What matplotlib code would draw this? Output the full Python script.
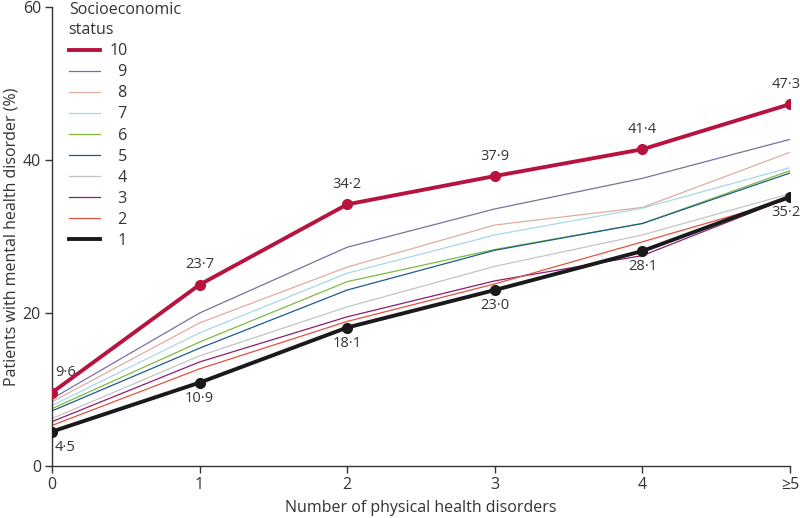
# -*- coding: utf-8 -*-

import matplotlib
matplotlib.use('Agg')
import matplotlib.pyplot as plt

plt.rcParams['font.family'] = ['Open Sans', 'DejaVu Sans']
plt.rcParams['font.size'] = 11.5
plt.rcParams['text.color'] = '#333333'
plt.rcParams['axes.labelcolor'] = '#333333'
plt.rcParams['xtick.color'] = '#333333'
plt.rcParams['ytick.color'] = '#333333'

# Number of physical health disorders (x positions) and their tick labels
x_vals = [0, 1, 2, 3, 4, 5]
x_labels = ['0', '1', '2', '3', '4', '\u22655']

# Patients with mental health disorder (%) per socioeconomic status
ses_10 = [9.6, 23.7, 34.2, 37.9, 41.4, 47.3]
ses_9 = [8.8, 20.0, 28.6, 33.6, 37.6, 42.7]
ses_8 = [8.4, 18.7, 26.0, 31.5, 33.8, 41.0]
ses_7 = [7.9, 17.4, 25.2, 30.2, 33.7, 39.0]
ses_6 = [7.5, 16.2, 24.1, 28.3, 31.7, 38.6]
ses_5 = [7.2, 15.4, 23.0, 28.2, 31.7, 38.3]
ses_4 = [6.2, 14.4, 20.8, 26.1, 30.2, 35.6]
ses_3 = [5.8, 13.6, 19.5, 24.2, 27.5, 35.1]
ses_2 = [5.3, 12.7, 18.9, 23.8, 29.3, 34.9]
ses_1 = [4.5, 10.9, 18.1, 23.0, 28.1, 35.2]

series = {
    '10': ses_10, '9': ses_9, '8': ses_8, '7': ses_7, '6': ses_6,
    '5': ses_5, '4': ses_4, '3': ses_3, '2': ses_2, '1': ses_1,
}
colors = {
    '10': '#b8123f', '9': '#7d6f9c', '8': '#e2aba1', '7': '#a6d8ea',
    '6': '#7dba3e', '5': '#1d5d8e', '4': '#c4c4c4', '3': '#8a1f6e',
    '2': '#e0533f', '1': '#1a1a1a',
}

fig = plt.figure(figsize=(8, 5.18), dpi=100)
ax = fig.add_axes([0.065, 0.1004, 0.9225, 0.8861])

handles = []
for key in ['9', '8', '7', '6', '5', '4', '3', '2']:
    h, = ax.plot(x_vals, series[key], color=colors[key], lw=0.9, zorder=2)
    handles.append(h)

h1, = ax.plot(x_vals, ses_1, color=colors['1'], lw=2.8, marker='o', ms=7,
    zorder=3, solid_capstyle='round')
h10, = ax.plot(x_vals, ses_10, color=colors['10'], lw=2.8, marker='o', ms=7,
    zorder=4, solid_capstyle='round')

# Value labels for the highest and lowest status
def label_offset(x):
    if x == 0:
        return 'left', 2
    if x == 5:
        return 'center', -3
    return 'center', 0

for x, y in zip(x_vals, ses_10):
    ha, dx = label_offset(x)
    ax.annotate(('%.1f' % y).replace('.', '\u00b7'), (x, y), xytext=(dx, 9),
        textcoords='offset points', ha=ha, va='bottom', fontsize=10.5,
        annotation_clip=False)
for x, y in zip(x_vals, ses_1):
    ha, dx = label_offset(x)
    ax.annotate(('%.1f' % y).replace('.', '\u00b7'), (x, y), xytext=(dx, -6),
        textcoords='offset points', ha=ha, va='top', fontsize=10.5,
        annotation_clip=False)

ax.set_xlim(0, 5)
ax.set_ylim(0, 60)
ax.set_xticks(x_vals)
ax.set_xticklabels(x_labels)
ax.set_yticks([0, 20, 40, 60])
ax.tick_params(direction='out', length=5, width=1, labelsize=11.5, pad=3)
for side in ['top', 'right']:
    ax.spines[side].set_visible(False)
for side in ['left', 'bottom']:
    ax.spines[side].set_linewidth(1)
    ax.spines[side].set_color('#333333')
ax.set_xlabel('Number of physical health disorders', labelpad=5)
ax.set_ylabel('Patients with mental health disorder (%)', labelpad=2)

# Legend, labels right-aligned with figure spaces
leg_handles = [h10] + handles + [h1]
leg_labels = ['10'] + ['\u2007' + k for k in ['9', '8', '7', '6', '5', '4', '3', '2', '1']]
leg_lines = []
for h in leg_handles:
    leg_lines.append(plt.Line2D([], [], color=h.get_color(), lw=h.get_linewidth()))
leg = ax.legend(leg_lines, leg_labels, title='Socioeconomic\nstatus', loc='upper left',
    bbox_to_anchor=(0.014, 1.025), frameon=False, handlelength=1.95, handletextpad=0.6,
    labelspacing=0.318, fontsize=11.5, title_fontsize=11.5, borderaxespad=0)
leg._legend_box.align = 'left'
leg.get_title().set_linespacing(1.35)

fig.savefig('out.png', dpi=100)
